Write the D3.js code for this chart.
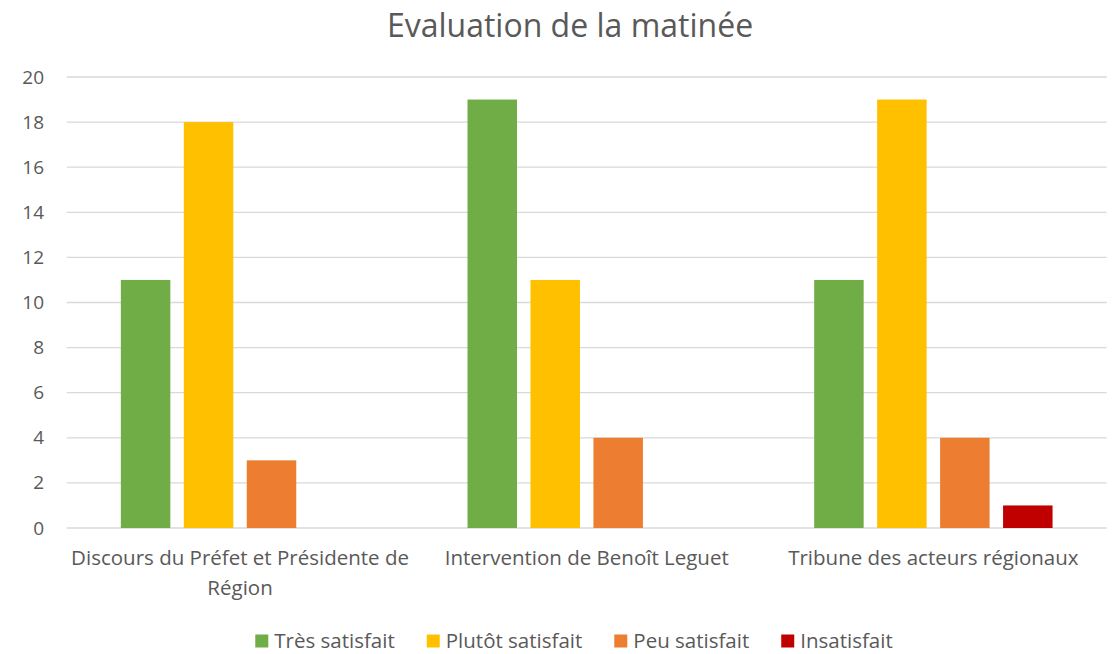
<!DOCTYPE html>
<html>
<head>
<meta charset="utf-8">
<script src="https://cdnjs.cloudflare.com/ajax/libs/d3/7.8.5/d3.min.js"></script>
<style>
  body { margin: 0; background: #fff; }
  text { font-family: "Open Sans", sans-serif; fill: #595959; }
</style>
</head>
<body>
<div id="chart"></div>
<script>
// data
var categories = ["Discours du Préfet et Présidente de Région", "Intervention de Benoît Leguet", "Tribune des acteurs régionaux"];
var seriesNames = ["Très satisfait", "Plutôt satisfait", "Peu satisfait", "Insatisfait"];
var tresSatisfait = [11, 19, 11];
var plutotSatisfait = [18, 11, 19];
var peuSatisfait = [3, 4, 4];
var insatisfait = [0, 0, 1];
var colors = ["#70ad47", "#ffc000", "#ed7d31", "#c00000"];
var yTicks = [0, 2, 4, 6, 8, 10, 12, 14, 16, 18, 20];

var width = 1117, height = 654;
var margin = { top: 77, left: 66.7, right: 10.3, bottom: 126 };

var svg = d3.select("#chart").append("svg")
  .attr("width", width)
  .attr("height", height);

var allSeries = [tresSatisfait, plutotSatisfait, peuSatisfait, insatisfait];
var rows = categories.map(function(c, i) {
  return { cat: c, values: allSeries.map(function(s, j) { return { key: seriesNames[j], value: s[i], color: colors[j] }; }) };
});

var x0 = d3.scaleBand()
  .domain(categories)
  .range([margin.left, width - margin.right])
  .padding(0);

var x1 = d3.scaleBand()
  .domain(seriesNames)
  .range([0, x0.bandwidth()])
  .paddingInner(0.214)
  .paddingOuter(0.86);

var y = d3.scaleLinear()
  .domain([0, 20])
  .range([height - margin.bottom, margin.top]);

// gridlines
svg.append("g").selectAll("line")
  .data(yTicks)
  .enter().append("line")
  .attr("x1", margin.left)
  .attr("x2", width - margin.right)
  .attr("y1", function(d) { return y(d); })
  .attr("y2", function(d) { return y(d); })
  .attr("stroke", "#d9d9d9")
  .attr("stroke-width", 1.3);

// y axis labels
var yAxis = d3.axisLeft(y).tickValues(yTicks).tickSize(0).tickPadding(0);
var yg = svg.append("g")
  .attr("transform", "translate(44,0)")
  .call(yAxis);
yg.select(".domain").remove();
yg.selectAll("text")
  .style("font-family", "'Open Sans', sans-serif")
  .style("font-size", "19px")
  .attr("fill", "#595959");

// bars
var groups = svg.append("g").selectAll("g")
  .data(rows)
  .enter().append("g")
  .attr("transform", function(d) { return "translate(" + x0(d.cat) + ",0)"; });

groups.selectAll("rect")
  .data(function(d) { return d.values.filter(function(v) { return v.value > 0; }); })
  .enter().append("rect")
  .attr("x", function(d) { return x1(d.key); })
  .attr("width", x1.bandwidth())
  .attr("y", function(d) { return y(d.value); })
  .attr("height", function(d) { return y(0) - y(d.value); })
  .attr("fill", function(d) { return d.color; });

// x axis labels
var xAxis = d3.axisBottom(x0).tickSize(0).tickPadding(0);
var xg = svg.append("g")
  .attr("transform", "translate(0," + (y(0) + 30) + ")")
  .call(xAxis);
xg.select(".domain").remove();
xg.selectAll("text")
  .style("font-family", "'Open Sans', sans-serif")
  .style("font-size", "20.5px")
  .attr("fill", "#595959")
  .attr("y", 0)
  .call(wrap, x0.bandwidth());

function wrap(texts, w) {
  texts.each(function() {
    var text = d3.select(this),
        words = text.text().split(/\s+/),
        line = [],
        lineHeight = 30,
        tspan = text.text(null).append("tspan").attr("x", 0).attr("dy", "0.35em");
    words.forEach(function(word) {
      line.push(word);
      tspan.text(line.join(" "));
      if (tspan.node().getComputedTextLength() > w && line.length > 1) {
        line.pop();
        tspan.text(line.join(" "));
        line = [word];
        tspan = text.append("tspan").attr("x", 0).attr("dy", lineHeight + "px").text(word);
      }
    });
  });
}

// title
svg.append("text")
  .attr("x", 570)
  .attr("y", 37)
  .attr("text-anchor", "middle")
  .style("font-size", "32px")
  .text("Evaluation de la matinée");

// legend
var legend = svg.append("g");
var lx = 0, gap = 32;
var items = legend.selectAll("g")
  .data(seriesNames)
  .enter().append("g");
items.append("rect")
  .attr("width", 13)
  .attr("height", 13)
  .attr("y", -6.5)
  .attr("fill", function(d, i) { return colors[i]; });
items.append("text")
  .attr("x", 19)
  .attr("dy", "0.35em")
  .style("font-size", "20.5px")
  .text(function(d) { return d; });
items.each(function() {
  var g = d3.select(this);
  g.attr("transform", "translate(" + lx + ",0)");
  lx += 19 + g.select("text").node().getComputedTextLength() + gap;
});
lx -= gap;
legend.attr("transform", "translate(" + (574 - lx / 2) + ",641)");
</script>
</body>
</html>
